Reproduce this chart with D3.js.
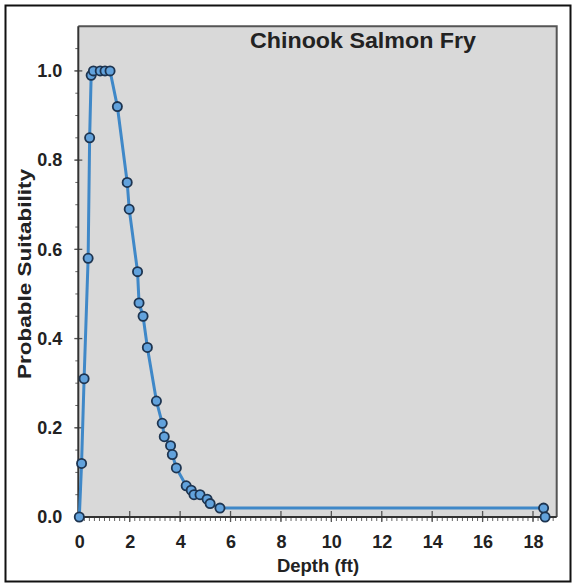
<!DOCTYPE html>
<html><head><meta charset="utf-8">
<script src="https://cdn.jsdelivr.net/npm/d3@7"></script>
<style>body{margin:0;background:#fff}svg{display:block}text{font-family:"Liberation Sans",Arial,sans-serif}</style>
</head><body><svg id="c" width="576" height="584"></svg>
<script>
const depth = [0, 0.09, 0.19, 0.35, 0.41, 0.47, 0.56, 0.83, 1.02, 1.22, 1.51, 1.90, 1.98, 2.31, 2.37, 2.53, 2.70, 3.06, 3.29, 3.37, 3.62, 3.69, 3.85, 4.24, 4.44, 4.55, 4.79, 5.07, 5.19, 5.58, 18.42, 18.48];
const suitability = [0, 0.12, 0.31, 0.58, 0.85, 0.99, 1.0, 1.0, 1.0, 1.0, 0.92, 0.75, 0.69, 0.55, 0.48, 0.45, 0.38, 0.26, 0.21, 0.18, 0.16, 0.14, 0.11, 0.07, 0.06, 0.05, 0.05, 0.04, 0.03, 0.02, 0.02, 0];
const xTicks = [0,2,4,6,8,10,12,14,16,18];
const yTicks = [0,0.2,0.4,0.6,0.8,1.0];
const title = "Chinook Salmon Fry";
const xTitle = "Depth (ft)";
const yTitle = "Probable Suitability";

const data = depth.map((d,i)=>({x:d,y:suitability[i]}));
const svg = d3.select("#c");
const L=78.3, R=556.7, T=26.3, B=517;
const x = d3.scaleLinear().domain([-0.04,18.94]).range([L,R]);
const y = d3.scaleLinear().domain([0,1.1]).range([B,T]);

// outer frame
svg.append("rect").attr("x",5.5).attr("y",5.5).attr("width",565).attr("height",576)
  .attr("fill","#fff").attr("stroke","#111").attr("stroke-width",2);

// plot background
svg.append("rect").attr("x",L).attr("y",T).attr("width",R-L).attr("height",B-T)
  .attr("fill","#d9d9d9");
// top/right border
svg.append("path").attr("d",`M${L},${T}H${R}V${B}`).attr("fill","none").attr("stroke","#555").attr("stroke-width",2);

// x axis: minor ticks below, major ticks crossing
const xMinor = d3.range(0,18.95,0.2);
svg.append("g").selectAll("line").data(xMinor).join("line")
  .attr("x1",d=>x(d)).attr("x2",d=>x(d)).attr("y1",B).attr("y2",B+4)
  .attr("stroke","#666").attr("stroke-width",1);
const xAxis = d3.axisBottom(x).tickValues(xTicks).tickSize(0).tickPadding(18).tickFormat(d3.format("d"));
const gx = svg.append("g").attr("transform",`translate(0,${B})`).call(xAxis);
gx.select(".domain").remove();
gx.selectAll("text").attr("font-size",18).attr("font-weight","bold").attr("fill","#222");
svg.append("g").selectAll("line").data(xTicks).join("line")
  .attr("x1",d=>x(d)).attr("x2",d=>x(d)).attr("y1",B-6).attr("y2",B+5)
  .attr("stroke","#555").attr("stroke-width",1.3);

// y axis
const yMinor = d3.range(0,1.1,0.05);
svg.append("g").selectAll("line").data(yMinor).join("line")
  .attr("x1",L-3).attr("x2",L).attr("y1",d=>y(d)).attr("y2",d=>y(d))
  .attr("stroke","#666").attr("stroke-width",1);
const yAxis = d3.axisLeft(y).tickValues(yTicks).tickSize(0).tickPadding(16).tickFormat(d3.format(".1f"));
const gy = svg.append("g").attr("transform",`translate(${L},0)`).call(yAxis);
gy.select(".domain").remove();
gy.selectAll("text").attr("font-size",18).attr("font-weight","bold").attr("fill","#222");
svg.append("g").selectAll("line").data(yTicks).join("line")
  .attr("x1",L-4).attr("x2",L+4).attr("y1",d=>y(d)).attr("y2",d=>y(d))
  .attr("stroke","#555").attr("stroke-width",1.3);

// axis lines
svg.append("path").attr("d",`M${L},${T}V${B}H${R}`).attr("fill","none").attr("stroke","#333").attr("stroke-width",2);

// line
svg.append("path").datum(data)
  .attr("d",d3.line().x(d=>x(d.x)).y(d=>y(d.y)))
  .attr("fill","none").attr("stroke","#3f88c8").attr("stroke-width",3);
// points
svg.append("g").selectAll("circle").data(data).join("circle")
  .attr("cx",d=>x(d.x)).attr("cy",d=>y(d.y)).attr("r",4.6)
  .attr("fill","#62a2dc").attr("stroke","#1d3450").attr("stroke-width",1.8);

// titles
svg.append("text").attr("x",363).attr("y",48).attr("text-anchor","middle")
  .attr("font-size",22).attr("font-weight","bold").attr("fill","#222")
  .attr("textLength",226).attr("lengthAdjust","spacingAndGlyphs").text(title);
svg.append("text").attr("x",318).attr("y",572).attr("text-anchor","middle")
  .attr("font-size",18.5).attr("font-weight","bold").attr("fill","#222").text(xTitle);
svg.append("text").attr("transform","translate(31,274) rotate(-90)").attr("text-anchor","middle")
  .attr("font-size",18).attr("font-weight","bold").attr("fill","#222")
  .attr("textLength",210).attr("lengthAdjust","spacingAndGlyphs").text(yTitle);
</script></body></html>
